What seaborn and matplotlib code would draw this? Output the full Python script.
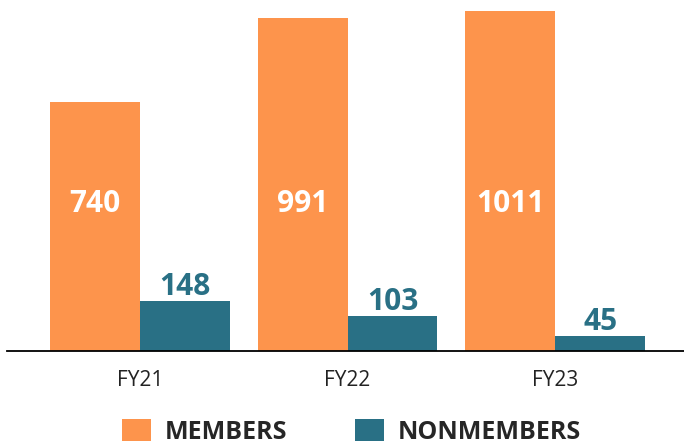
import matplotlib
matplotlib.use("Agg")
import matplotlib.pyplot as plt
import seaborn as sns
import pandas as pd
from matplotlib.patches import Patch

years = ["FY21", "FY22", "FY23"]
members = [740, 991, 1011]
nonmembers = [148, 103, 45]
series = ["MEMBERS", "NONMEMBERS"]
colors = ["#FD944C", "#297085"]

df = pd.DataFrame({
    "year": years * 2,
    "value": members + nonmembers,
    "group": [series[0]] * 3 + [series[1]] * 3,
})

sns.set_style("white")
plt.rcParams["font.family"] = ["Open Sans", "DejaVu Sans"]

fig = plt.figure(figsize=(6.84, 4.44), dpi=100)
ax = fig.add_axes([0.0102, 0.2095, 0.9898, 0.7905])

sns.barplot(data=df, x="year", y="value", hue="group", palette=colors,
            width=0.866, saturation=1, ax=ax, legend=False, linewidth=0)

ax.set_xlim(-0.64, 2.62)
ax.set_ylim(0, 1045)
for s in ["top", "right", "left"]:
    ax.spines[s].set_visible(False)
ax.spines["bottom"].set_color("black")
ax.spines["bottom"].set_linewidth(1.3)
ax.set_yticks([])
ax.set_xlabel("")
ax.set_ylabel("")
ax.tick_params(axis="x", length=0, pad=14, labelsize=15, labelcolor="#222222")

off = 0.866 / 4
for i, (m, n) in enumerate(zip(members, nonmembers)):
    ax.text(i - off, 437, str(m), ha="center", va="center", color="white",
            fontsize=21.5, fontweight="bold")
    ax.text(i + off, n + 18, str(n), ha="center", va="baseline", color=colors[1],
            fontsize=21.5, fontweight="bold")

handles = [Patch(facecolor=c, edgecolor="none") for c in colors]
fig.legend(handles, series, loc="center", bbox_to_anchor=(0.514, 0.027),
           ncol=2, frameon=False, prop={"size": 18, "weight": "bold"},
           handlelength=1.16, handleheight=0.92, handletextpad=0.56,
           columnspacing=2.7, borderpad=0)

fig.savefig("out.png", dpi=100)
